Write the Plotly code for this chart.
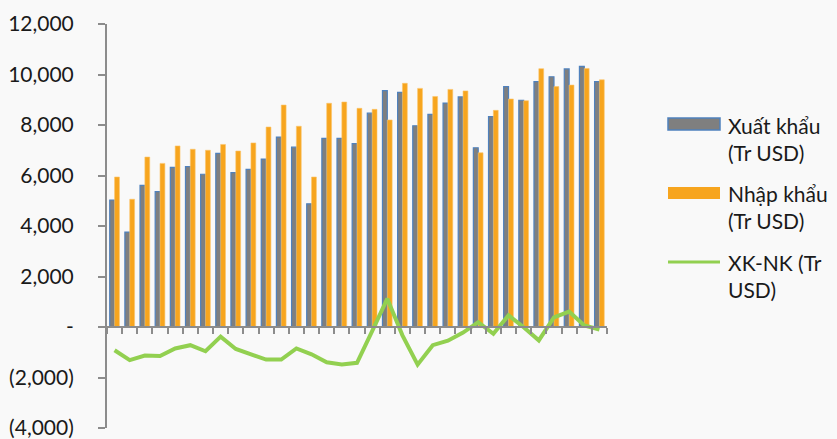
import plotly.graph_objects as go

# Monthly trade figures (million USD)
periods = list(range(1, 34))
exports = [5030, 3760, 5610, 5360, 6320, 6350, 6050, 6880, 6110, 6240,
           6650, 7520, 7120, 4880, 7470, 7470, 7260, 8470, 9360, 9290,
           7970, 8420, 8870, 9110, 7100, 8330, 9520, 8980, 9720, 9910,
           10220, 10320, 9720]
imports = [5940, 5060, 6730, 6480, 7170, 7040, 7000, 7230, 6970, 7290,
           7920, 8790, 7950, 5940, 8860, 8910, 8660, 8620, 8200, 9650,
           9450, 9130, 9410, 9350, 6900, 8580, 9030, 8960, 10230, 9520,
           9580, 10240, 9790]
balance = [-920, -1310, -1130, -1150, -850, -720, -960, -380, -870, -1060,
           -1290, -1290, -850, -1080, -1400, -1480, -1420, -160, 1120, -330,
           -1490, -720, -540, -220, 190, -270, 460, -10, -530, 380,
           610, 60, -100]

names = ["Xuất khẩu<br>(Tr USD)", "Nhập khẩu<br>(Tr USD)", "XK-NK (Tr<br>USD)"]

y_ticks = [-4000, -2000, 0, 2000, 4000, 6000, 8000, 10000, 12000]
y_tick_text = ["(4,000)", "(2,000)", "-", "2,000", "4,000", "6,000",
               "8,000", "10,000", "12,000"]

EXP_FILL = "#7f7f7f"
EXP_EDGE = "#4f81bd"
IMP_FILL = "#f7a51e"
BAL_LINE = "#92d050"
AXIS = "#8c8c8c"
BG = "#f9f9f9"
FONT = "Lato, 'Open Sans', sans-serif"

fig = go.Figure()
fig.add_trace(go.Bar(x=periods, y=exports, name=names[0],
                     marker=dict(color=EXP_FILL, line=dict(color=EXP_EDGE, width=1.2)),
                     showlegend=False))
fig.add_trace(go.Bar(x=periods, y=imports, name=names[1],
                     marker=dict(color=IMP_FILL, line=dict(color="#fbc56a", width=0.6)),
                     showlegend=False))
fig.add_trace(go.Scatter(x=periods, y=balance, name=names[2], mode="lines",
                         line=dict(color=BAL_LINE, width=4), showlegend=False))

L, R, T, B = 107, 230, 24, 11
W, H = 837, 439
pw, ph = W - L - R, H - T - B


def px(x):
    return (x - L) / pw


def py(y):
    return (H - B - y) / ph


# Legend drawn as keys plus labels to the right of the plot
shapes = []
annotations = []
key_x0, key_x1, text_x = 668, 720, 726
rows = [(124, 153), (193, 222), (262, 290)]
for i, (name, (r1, r2)) in enumerate(zip(names, rows)):
    if i == 0:
        shapes.append(dict(type="rect", xref="paper", yref="paper",
                           x0=px(key_x0), x1=px(key_x1), y0=py(r1 + 6), y1=py(r1 - 6),
                           fillcolor=EXP_FILL, line=dict(color=EXP_EDGE, width=1.5)))
    elif i == 1:
        shapes.append(dict(type="rect", xref="paper", yref="paper",
                           x0=px(key_x0), x1=px(key_x1), y0=py(r1 + 6), y1=py(r1 - 6),
                           fillcolor=IMP_FILL, line=dict(width=0)))
    else:
        shapes.append(dict(type="line", xref="paper", yref="paper",
                           x0=px(key_x0), x1=px(key_x1), y0=py(r1), y1=py(r1),
                           line=dict(color=BAL_LINE, width=3)))
    annotations.append(dict(xref="paper", yref="paper", x=px(text_x),
                            y=py((r1 + r2) / 2), xanchor="left", yanchor="middle",
                            align="left", showarrow=False, text=name,
                            font=dict(family=FONT, size=21, color="#1a1a1a")))

fig.update_layout(
    width=W, height=H,
    margin=dict(l=L, r=R, t=T, b=B, pad=0),
    paper_bgcolor=BG, plot_bgcolor=BG,
    barmode="group", bargap=0.36, bargroupgap=0.0,
    font=dict(family=FONT, size=21, color="#1a1a1a"),
    shapes=shapes, annotations=annotations,
    xaxis=dict(type="category", range=[-0.5, 32.5], anchor="free", position=0.25,
               showline=True, linecolor=AXIS, linewidth=2,
               ticks="outside", ticklen=6, tickwidth=2, tickcolor=AXIS,
               tickson="boundaries", showticklabels=False, showgrid=False,
               zeroline=False, automargin=False),
    yaxis=dict(range=[-4000, 12000], tickvals=y_ticks, ticktext=y_tick_text,
               showline=True, linecolor=AXIS, linewidth=2,
               ticks="outside", ticklen=7, tickwidth=2, tickcolor=AXIS,
               ticklabelstandoff=20, ticklabeloverflow="allow",
               showgrid=False, zeroline=False, automargin=False),
)

fig.write_html("out.html")
